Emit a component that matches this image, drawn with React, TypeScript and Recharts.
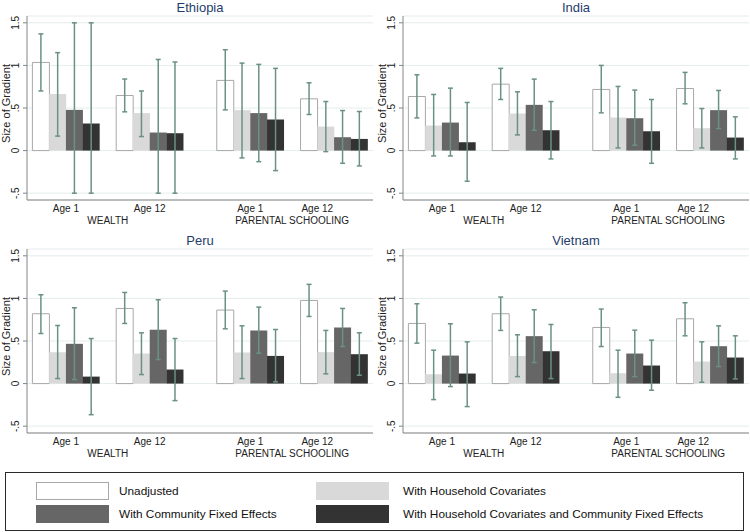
import React from 'react';
import { ComposedChart, Bar, Cell, ErrorBar, XAxis, YAxis, CartesianGrid } from 'recharts';

const groupLabels = ['Age 1', 'Age 12', 'Age 1', 'Age 12'];
const domainLabels = ['WEALTH', 'PARENTAL SCHOOLING'];
const seriesNames = [
  'Unadjusted',
  'With Household Covariates',
  'With Community Fixed Effects',
  'With Household Covariates and Community Fixed Effects',
];
const yTicks = [-0.5, 0, 0.5, 1, 1.5];

// rows = group (wealth age 1, wealth age 12, schooling age 1, schooling age 12), cols = series
const ethiopiaEst = [[1.035, 0.663, 0.478, 0.318], [0.647, 0.44, 0.212, 0.204], [0.824, 0.475, 0.44, 0.365], [0.608, 0.282, 0.157, 0.137]];
const ethiopiaLow = [[0.7, 0.17, -0.5, -0.5], [0.455, 0.165, -0.5, -0.5], [0.478, -0.086, -0.13, -0.235], [0.424, -0.012, -0.149, -0.18]];
const ethiopiaHigh = [[1.37, 1.15, 1.5, 1.5], [0.84, 0.7, 1.07, 1.04], [1.184, 1.027, 1.012, 0.965], [0.796, 0.576, 0.47, 0.459]];

const indiaEst = [[0.635, 0.294, 0.329, 0.098], [0.78, 0.435, 0.537, 0.239], [0.718, 0.388, 0.38, 0.227], [0.729, 0.263, 0.475, 0.153]];
const indiaLow = [[0.384, -0.063, -0.063, -0.36], [0.6, 0.184, 0.239, -0.098], [0.443, 0.031, 0.063, -0.149], [0.549, 0.031, 0.259, -0.098]];
const indiaHigh = [[0.89, 0.659, 0.733, 0.565], [0.965, 0.69, 0.839, 0.576], [1.0, 0.753, 0.71, 0.6], [0.918, 0.494, 0.706, 0.396]];

const peruEst = [[0.82, 0.369, 0.467, 0.082], [0.882, 0.353, 0.631, 0.165], [0.863, 0.365, 0.624, 0.325], [0.976, 0.369, 0.659, 0.345]];
const peruLow = [[0.588, 0.059, 0.047, -0.365], [0.706, 0.106, 0.282, -0.2], [0.643, 0.059, 0.357, 0.02], [0.788, 0.114, 0.435, 0.098]];
const peruHigh = [[1.043, 0.682, 0.89, 0.529], [1.07, 0.596, 0.984, 0.529], [1.086, 0.678, 0.898, 0.635], [1.165, 0.624, 0.882, 0.596]];

const vietnamEst = [[0.706, 0.11, 0.329, 0.118], [0.82, 0.325, 0.557, 0.38], [0.659, 0.122, 0.353, 0.212], [0.761, 0.259, 0.439, 0.306]];
const vietnamLow = [[0.475, -0.188, -0.035, -0.27], [0.624, 0.082, 0.247, 0.059], [0.435, -0.161, 0.082, -0.078], [0.561, 0.016, 0.2, 0.055]];
const vietnamHigh = [[0.937, 0.392, 0.702, 0.49], [1.016, 0.573, 0.867, 0.694], [0.875, 0.392, 0.627, 0.51], [0.949, 0.49, 0.678, 0.561]];

// empty bar slots after each group
const gapsAfter = [1, 2, 1, 0];

const FILLS = ['#ffffff', '#d9d9d9', '#666666', '#333333'];
const STROKES = ['#a8a8a8', 'none', 'none', 'none'];
const ERR = '#6a9184';
const AXIS = '#858585';
const GRID = '#e4ecec';
const TITLE = '#1f3d6c';
const FONT = '"Liberation Sans", Arial, Helvetica, sans-serif';

const CHART_W = 375;
const CHART_H = 233;
const Y_W = 27;
const PLOT_W = CHART_W - Y_W - 2;
const PAD = 5.4;
const SLOTS = 20;
const BW = (PLOT_W - 2 * PAD) / SLOTS;

function buildRows(est: number[][], low: number[][], high: number[][]) {
  const rows: any[] = [];
  est.forEach((grp, g) => {
    grp.forEach((v, s) => {
      rows.push({ slot: `g${g}s${s}`, series: s, value: v, err: [v - low[g][s], high[g][s] - v] });
    });
    for (let k = 0; k < gapsAfter[g]; k++) rows.push({ slot: `gap${g}${k}`, series: -1, value: null });
  });
  return rows;
}

// tick sits on the 3rd bar of each group; the group centre is half a bar to the left
const labelSlots = [0, 1, 2, 3].map((g) => `g${g}s2`);

function GroupTick(props: any) {
  const { x, y, index } = props;
  const centre = x - BW / 2;
  // Stata nudges the last "Age 12" label one bar to the left
  const shift = index === 3 ? -BW : 0;
  return (
    <g>
      <text x={centre + shift} y={y + 11.5} textAnchor="middle" fontSize={10} fill="#222">
        {groupLabels[index]}
      </text>
      {index % 2 === 1 && (
        <text x={centre - 2.5 * BW} y={y + 24} textAnchor="middle" fontSize={10} fill="#222">
          {domainLabels[(index - 1) / 2]}
        </text>
      )}
    </g>
  );
}

const fmt = (v: number) => String(v).replace('0.', '.');

function YTick(props: any) {
  const { x, y, payload } = props;
  const bx = x - 4;
  return (
    <text x={bx} y={y} transform={`rotate(-90, ${bx}, ${y})`} textAnchor="middle" fontSize={10} fill="#222">
      {fmt(payload.value)}
    </text>
  );
}

function YTitle(props: any) {
  const vb = props.viewBox;
  const cx = 10;
  const cy = vb.y + vb.height / 2 - 4.5;
  return (
    <text x={cx} y={cy} transform={`rotate(-90, ${cx}, ${cy})`} textAnchor="middle" fontSize={11} fill="#222">
      Size of Gradient
    </text>
  );
}

function Panel({ title, rows, left, top }: { title: string; rows: any[]; left: number; top: number }) {
  return (
    <div style={{ position: 'absolute', left, top, width: CHART_W, height: CHART_H }}>
      <ComposedChart
        width={CHART_W}
        height={CHART_H}
        data={rows}
        margin={{ top: 16, right: 2, bottom: 0, left: 0 }}
        barCategoryGap={0}
        barGap={0}
      >
        <CartesianGrid vertical={false} stroke={GRID} />
        <XAxis
          dataKey="slot"
          type="category"
          padding={{ left: PAD, right: PAD }}
          height={33}
          axisLine={{ stroke: AXIS }}
          tickLine={false}
          tickSize={0}
          tickMargin={0}
          ticks={labelSlots}
          interval={0}
          tick={<GroupTick />}
        />
        <YAxis
          type="number"
          domain={[-0.58, 1.58]}
          allowDataOverflow
          ticks={yTicks}
          width={Y_W}
          axisLine={{ stroke: AXIS }}
          tickLine={{ stroke: AXIS }}
          tickSize={4}
          tickMargin={0}
          tick={<YTick />}
          label={<YTitle />}
        />
        <Bar dataKey="value" isAnimationActive={false}>
          {rows.map((r, i) => (
            <Cell
              key={i}
              fill={r.series >= 0 ? FILLS[r.series] : 'none'}
              stroke={r.series >= 0 ? STROKES[r.series] : 'none'}
              strokeWidth={1}
            />
          ))}
          <ErrorBar dataKey="err" width={2.5} stroke={ERR} strokeWidth={1.5} isAnimationActive={false} />
        </Bar>
      </ComposedChart>
      <div
        style={{
          position: 'absolute', left: Y_W, top: 0, width: PLOT_W, textAlign: 'center',
          fontSize: 13, lineHeight: '15px', color: TITLE, zIndex: 1,
        }}
      >
        {title}
      </div>
    </div>
  );
}

function Legend() {
  const keyStyle = (s: number): React.CSSProperties => ({
    position: 'absolute', width: 73, height: 18, boxSizing: 'border-box',
    background: FILLS[s], border: s === 0 ? `1px solid ${STROKES[0]}` : `1px solid ${FILLS[s]}`,
  });
  const keyCols = [30, 310];
  const textCols = [113, 397];
  const rowsY = [9, 32];
  return (
    <div
      style={{
        position: 'absolute', left: 5, top: 472, width: 739, height: 59, boxSizing: 'border-box',
        border: '1px solid #2a2a2a', background: '#fff',
      }}
    >
      {seriesNames.map((name, s) => {
        const col = s % 2;
        const cy = rowsY[Math.floor(s / 2)];
        return (
          <React.Fragment key={name}>
            <div style={{ ...keyStyle(s), left: keyCols[col], top: cy }} />
            <div
              style={{
                position: 'absolute', left: textCols[col], top: cy, height: 18, lineHeight: '18px',
                fontSize: 11.8, color: '#111', whiteSpace: 'nowrap',
              }}
            >
              {name}
            </div>
          </React.Fragment>
        );
      })}
    </div>
  );
}

export default function App() {
  return (
    <div
      style={{
        position: 'absolute', left: 0, top: 0, width: 750, height: 532, overflow: 'hidden',
        background: '#fff', fontFamily: FONT,
      }}
    >
      <Panel title="Ethiopia" rows={buildRows(ethiopiaEst, ethiopiaLow, ethiopiaHigh)} left={0} top={0} />
      <Panel title="India" rows={buildRows(indiaEst, indiaLow, indiaHigh)} left={376} top={0} />
      <Panel title="Peru" rows={buildRows(peruEst, peruLow, peruHigh)} left={0} top={233} />
      <Panel title="Vietnam" rows={buildRows(vietnamEst, vietnamLow, vietnamHigh)} left={376} top={233} />
      <Legend />
    </div>
  );
}
